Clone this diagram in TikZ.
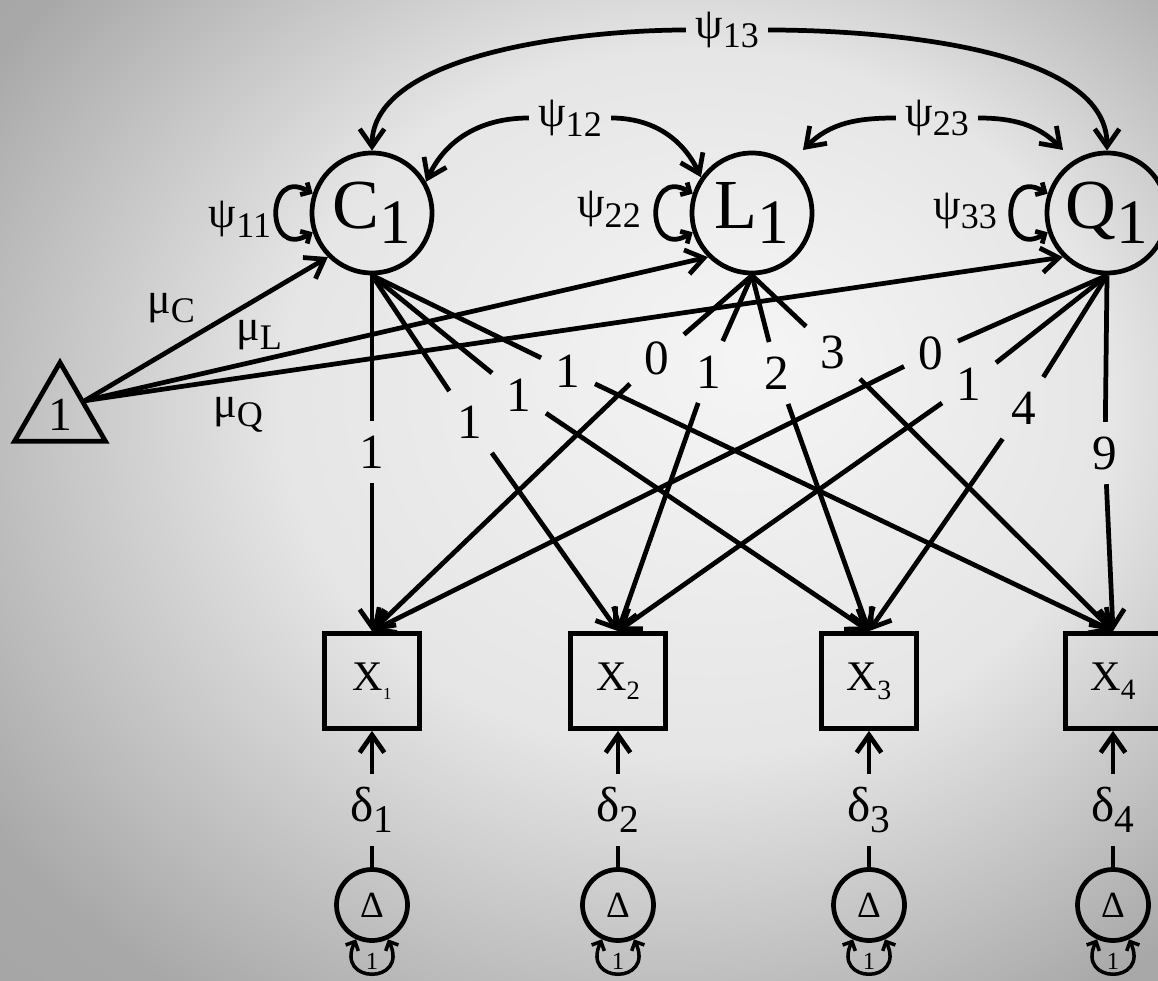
\documentclass[tikz,border=0pt]{standalone}
\usepackage{fontspec}
\setmainfont{Liberation Serif}
\usepackage{graphicx}
\usetikzlibrary{shapes.geometric,arrows.meta}
\newcommand{\lo}[2][0.82]{\raisebox{-0.22em}{\scalebox{#1}{#2}}}
\pgfdeclareradialshading{backdrop}{\pgfpoint{8bp}{7bp}}{color(0bp)=(black!4); color(18bp)=(black!10); color(34bp)=(black!34); color(50bp)=(black!38)}

\begin{document}
\begin{tikzpicture}[line width=2.7pt, >={Straight Barb[length=10pt,width=14pt]},
        latent/.style={circle, draw, minimum size=2.4cm, inner sep=0pt, font=\fontsize{40}{44}\selectfont},
        manifest/.style={rectangle, draw, minimum size=1.9cm, inner sep=0pt, font=\fontsize{24}{26}\selectfont},
        unit/.style={regular polygon, regular polygon sides=3, draw, minimum size=2.1cm, inner sep=0pt, font=\fontsize{27}{30}\selectfont},
        errvar/.style={circle, draw, minimum size=1.42cm, inner sep=0pt, font=\fontsize{21}{23}\selectfont},
        weight/.style={inner sep=7pt, font=\fontsize{28}{30}\selectfont},
        param/.style={inner sep=4pt, font=\fontsize{25}{27}\selectfont},
        resid/.style={inner sep=6pt, font=\fontsize{28}{30}\selectfont},
        fixed/.style={inner sep=0pt, font=\fontsize{14}{16}\selectfont},
        selfloop/.style={>={Straight Barb[length=4pt,width=8pt]}, <->}]
        \useasboundingbox (0, 0) rectangle (23.16, 19.6);
        \shade[shading=backdrop] (0, 0) rectangle (23.16, 19.6);

        % latent factors
        \node[latent] (C1) at (7.44, 15.34) {C\lo[0.9]{1}};
        \node[latent] (L1) at (15.04, 15.34) {L\lo[0.9]{1}};
        \node[latent] (Q1) at (22.14, 15.34) {Q\lo[0.9]{1}};
        \node[unit] (one) at (1.2, 11.3) {1};

        % indicators
        \node[manifest] (X1) at (7.44, 5.98) {X\lo[0.4]{1}};
        \node[manifest] (X2) at (12.36, 5.98) {X\lo[0.63]{2}};
        \node[manifest] (X3) at (17.38, 5.98) {X\lo[0.66]{3}};
        \node[manifest] (X4) at (22.26, 5.98) {X\lo[0.7]{4}};

        \node[resid] (d1) at (7.44, 3.4) {δ\lo[0.8]{1}};
        \node[resid] (d2) at (12.36, 3.4) {δ\lo[0.8]{2}};
        \node[resid] (d3) at (17.38, 3.4) {δ\lo[0.8]{3}};
        \node[resid] (d4) at (22.26, 3.4) {δ\lo[0.8]{4}};

        \node[errvar] (D1) at (7.44, 1.5) {Δ};
        \node[errvar] (D2) at (12.36, 1.5) {Δ};
        \node[errvar] (D3) at (17.38, 1.5) {Δ};
        \node[errvar] (D4) at (22.26, 1.5) {Δ};

        \node[fixed] (v1) at (7.44, 0.38) {1};
        \node[fixed] (v2) at (12.36, 0.38) {1};
        \node[fixed] (v3) at (17.38, 0.38) {1};
        \node[fixed] (v4) at (22.26, 0.38) {1};

        % parameter labels
        \node[param] (p11) at (4.8, 15.22) {ψ\lo{11}};
        \node[param] (p22) at (12.18, 15.42) {ψ\lo{22}};
        \node[param] (p33) at (19.3, 15.38) {ψ\lo{33}};
        \node[param] (p12) at (11.4, 17.24) {ψ\lo{12}};
        \node[param] (p13) at (14.54, 19.0) {ψ\lo{13}\hspace{0.5em}};
        \node[param] (p23) at (18.74, 17.24) {ψ\lo{23}};
        \node[param] (mC) at (3.42, 13.44) {μ\lo{C}};
        \node[param] (mL) at (5.18, 12.9) {μ\lo{L}};
        \node[param] (mQ) at (4.76, 11.3) {μ\lo{Q}};

        \node[weight] (wC1) at (7.44, 10.56) {1};
        \node[weight] (wC2) at (9.4, 11.16) {1};
        \node[weight] (wC3) at (10.38, 11.7) {1};
        \node[weight] (wC4) at (11.36, 12.18) {1};
        \node[weight] (wL1) at (13.14, 12.44) {0};
        \node[weight] (wL2) at (14.18, 12.16) {1};
        \node[weight] (wL3) at (15.54, 12.14) {2};
        \node[weight] (wL4) at (16.66, 12.56) {3};
        \node[weight] (wQ1) at (18.62, 12.54) {0};
        \node[weight] (wQ2) at (19.38, 11.92) {1};
        \node[weight] (wQ3) at (20.48, 11.44) {4};
        \node[weight] (wQ4) at (22.1, 10.54) {9};

        \coordinate (L1cov) at (16.06, 16.6);
        \coordinate (Q1cov) at (21.26, 16.6);

        % covariances
        \draw[->] (p13) to[out=180, in=90, looseness=0.75] (C1.north);
        \draw[->] (p13) to[out=0, in=90, looseness=0.75] (Q1.north);
        \draw[->] (p12) to[out=180, in=65] (C1.30);
        \draw[->] (p12) to[out=0, in=115] (L1.145);
        \draw[->] (p23) to[out=180, in=45] (L1cov);
        \draw[->] (p23) to[out=0, in=135] (Q1cov);

        % variances
        \draw[selfloop] (C1.162) .. controls +(150:1.1) and +(210:1.1) .. (C1.198);
        \draw[selfloop] (L1.162) .. controls +(150:1.1) and +(210:1.1) .. (L1.198);
        \draw[selfloop] (Q1.162) .. controls +(150:1.1) and +(210:1.1) .. (Q1.198);

        % means
        \draw[->] (one.side 3) -- (C1.south west);
        \draw[->] (one.side 3) -- (L1.south west);
        \draw[->] (one.side 3) -- (Q1.south west);

        % loadings
        \draw (C1.south) -- (wC1); \draw[->] (wC1) -- (X1.north);
        \draw (C1.south) -- (wC2); \draw[->] (wC2) -- (X2.north);
        \draw (C1.south) -- (wC3); \draw[->] (wC3) -- (X3.north);
        \draw (C1.south) -- (wC4); \draw[->] (wC4) -- (X4.north);
        \draw (L1.south) -- (wL1); \draw[->] (wL1) -- (X1.north);
        \draw (L1.south) -- (wL2); \draw[->] (wL2) -- (X2.north);
        \draw (L1.south) -- (wL3); \draw[->] (wL3) -- (X3.north);
        \draw (L1.south) -- (wL4); \draw[->] (wL4) -- (X4.north);
        \draw (Q1.south) -- (wQ1); \draw[->] (wQ1) -- (X1.north);
        \draw (Q1.south) -- (wQ2); \draw[->] (wQ2) -- (X2.north);
        \draw (Q1.south) -- (wQ3); \draw[->] (wQ3) -- (X3.north);
        \draw (Q1.south) -- (wQ4); \draw[->] (wQ4) -- (X4.north);

        % residuals
        \draw (D1) -- (d1); \draw[->] (d1) -- (X1);
        \draw (D2) -- (d2); \draw[->] (d2) -- (X2);
        \draw (D3) -- (d3); \draw[->] (d3) -- (X3);
        \draw (D4) -- (d4); \draw[->] (d4) -- (X4);

        \draw[selfloop, line width=2pt] (D1.245) .. controls +(245:1.0) and +(295:1.0) .. (D1.295);
        \draw[selfloop, line width=2pt] (D2.245) .. controls +(245:1.0) and +(295:1.0) .. (D2.295);
        \draw[selfloop, line width=2pt] (D3.245) .. controls +(245:1.0) and +(295:1.0) .. (D3.295);
        \draw[selfloop, line width=2pt] (D4.245) .. controls +(245:1.0) and +(295:1.0) .. (D4.295);

    \end{tikzpicture}
\end{document}
